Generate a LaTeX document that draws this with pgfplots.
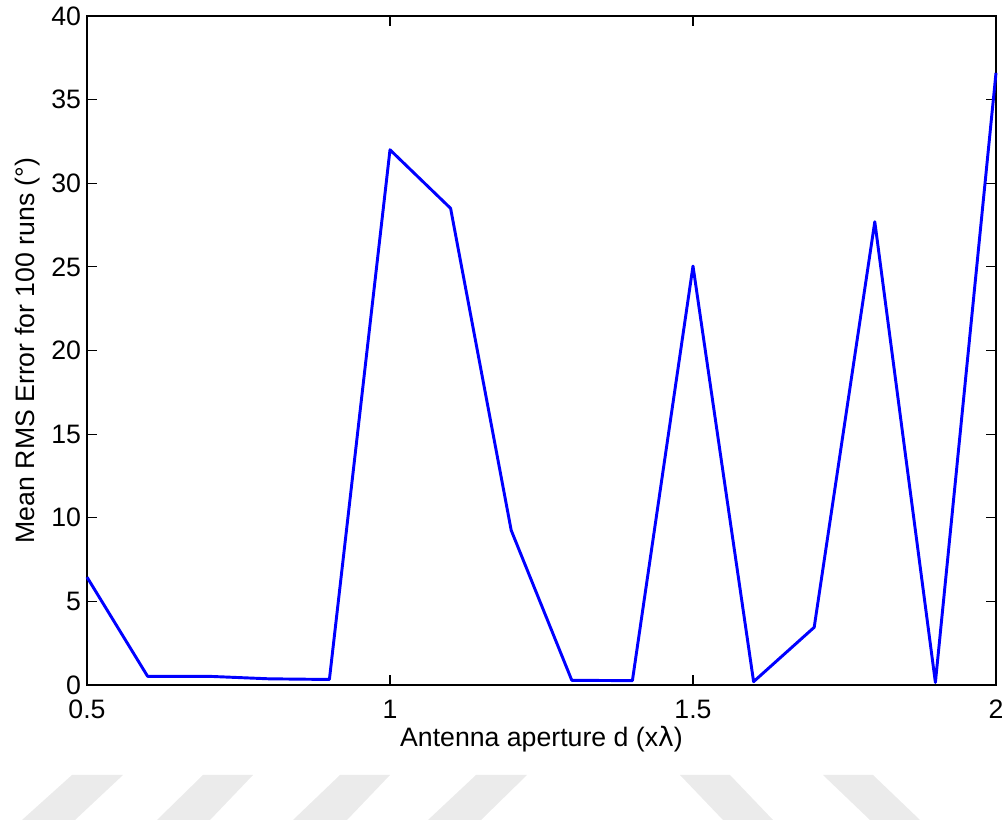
\documentclass[border=0pt]{standalone}
\usepackage{pgfplots}
\pgfplotsset{compat=1.18}
\usepackage{fontspec}
\setmainfont{Liberation Sans}
\newfontfamily\symfont{DejaVu Sans}
\begin{document}
\begin{tikzpicture}[x=0.75pt,y=0.75pt]
\useasboundingbox (0,0) rectangle (1008,822);
% faint watermark stripes
\begin{scope}[fill=black!8]
\fill (22,2) -- (75,2) -- (123,47) -- (72,47) -- cycle;
\fill (157,2) -- (210,2) -- (253,47) -- (203,47) -- cycle;
\fill (293,2) -- (347,2) -- (390,47) -- (340,47) -- cycle;
\fill (428,2) -- (481,2) -- (527,47) -- (476,47) -- cycle;
\fill (723,2) -- (773,2) -- (730,47) -- (680,47) -- cycle;
\fill (870,2) -- (920,2) -- (873,47) -- (823,47) -- cycle;
\end{scope}
\begin{axis}[
  at={(65.25pt,102.75pt)}, anchor=south west,
  scale only axis,
  width=681.75pt, height=501.75pt,
  xmin=0.5, xmax=2, ymin=0, ymax=40,
  xtick={0.5,1,1.5,2},
  xticklabels={0.5,1,1.5,2},
  ytick={0,5,...,40},
  tick align=inside,
  major tick length=7.5pt,
  axis line style={black, line width=1.2pt},
  every tick/.style={black, line width=0.8pt},
  tick label style={font=\fontsize{20}{24}\selectfont},
  /pgf/number format/assume math mode=true,
  xticklabel style={yshift=-8pt},
  yticklabel style={xshift=-1pt},
  xlabel={Antenna aperture d (x{\symfont λ})},
  ylabel={Mean RMS Error for 100 runs (°)},
  xlabel style={font=\fontsize{20}{24}\selectfont, at={(axis description cs:0.5,0)}, anchor=north, yshift=-27.5pt},
  ylabel style={font=\fontsize{20}{24}\selectfont, at={(axis description cs:0,0.5)}, anchor=south, yshift=32pt},
  clip=false,
]
\addplot[blue, line width=2.2pt, line join=round] coordinates {
(0.5,6.45) (0.6,0.52) (0.7,0.52) (0.8,0.37) (0.9,0.33)
(1.0,32.0) (1.1,28.5) (1.2,9.25) (1.3,0.28) (1.4,0.26)
(1.5,25.05) (1.6,0.2) (1.7,3.45) (1.8,27.7) (1.9,0.15) (2.0,36.6)
};
\end{axis}
\end{tikzpicture}
\end{document}
